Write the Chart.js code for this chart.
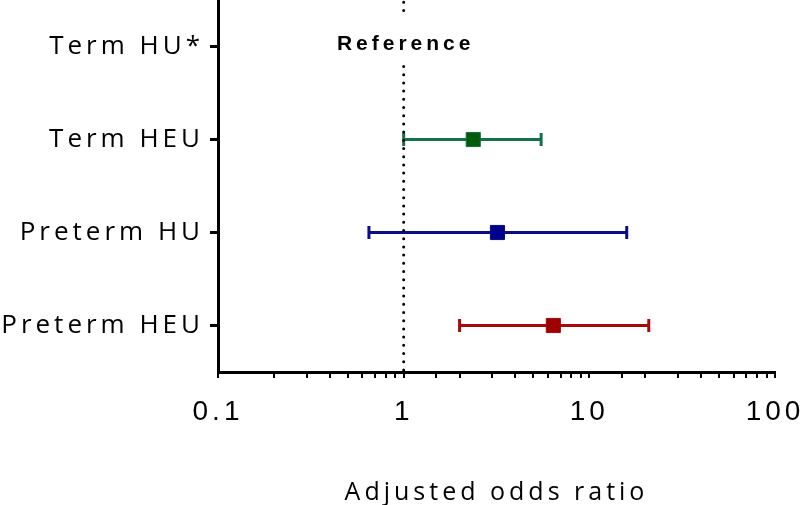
<!DOCTYPE html>
<html>
<head>
<meta charset="utf-8">
<script src="https://cdn.jsdelivr.net/npm/chart.js@4"></script>
<style>
  body { margin: 0; background: #fff; }
  #wrap { width: 800px; height: 505px; }
</style>
</head>
<body>
<div id="wrap"><canvas id="myChart"></canvas></div>
<script>
'use strict';

// groups, top to bottom
const groups = ['Term HU*', 'Term HEU', 'Preterm HU', 'Preterm HEU'];
// adjusted odds ratio and 95% CI (Term HU* is the reference)
const oddsRatio = [null, 2.37, 3.2, 6.4];
const lowerCI = [null, 1.0, 0.65, 2.0];
const upperCI = [null, 5.5, 15.9, 20.9];
const barColors = [null, '#12704a', '#0c0c86', '#a80a0a'];
const markColors = [null, '#005c0a', '#00008a', '#9e0000'];
const xTicks = [0.1, 1, 10, 100];
const refValue = 1;

Chart.defaults.color = '#000';

const datasets = [];
for (let i = 0; i < groups.length; i++) {
    if (oddsRatio[i] == null) continue;
    // the CI line with caps
    datasets.push({
        type: 'line',
        data: [{ x: lowerCI[i], y: groups[i] }, { x: upperCI[i], y: groups[i] }],
        borderColor: barColors[i],
        backgroundColor: barColors[i],
        borderWidth: 3,
        pointStyle: 'line',
        pointRotation: 90,
        pointRadius: 6.5,
        pointBorderWidth: 3,
        pointBorderColor: barColors[i],
        clip: false,
        order: 2
    });
    // the estimate
    datasets.push({
        type: 'scatter',
        data: [{ x: oddsRatio[i], y: groups[i] }],
        pointStyle: 'rect',
        pointRadius: 10,
        backgroundColor: markColors[i],
        borderColor: barColors[i],
        borderWidth: 1,
        clip: false,
        order: 1
    });
}

// letter spaced text like the original figure
const spacing = {
    id: 'spacing',
    beforeUpdate(chart) { chart.ctx.letterSpacing = '4px'; },
    beforeDraw(chart) { chart.ctx.letterSpacing = '4px'; }
};

// dotted line at OR = 1 with the "Reference" label
const refLine = {
    id: 'refLine',
    afterDatasetsDraw(chart) {
        const ctx = chart.ctx;
        const x = chart.scales.x.getPixelForValue(refValue);
        const yRef = chart.scales.y.getPixelForValue(0);
        const area = chart.chartArea;
        ctx.save();
        ctx.strokeStyle = '#000';
        ctx.lineWidth = 3;
        ctx.lineCap = 'round';
        ctx.setLineDash([0, 8.2]);
        ctx.beginPath();
        ctx.moveTo(x, yRef - 36);
        ctx.lineTo(x, area.top);
        ctx.moveTo(x, yRef + 20);
        ctx.lineTo(x, area.bottom);
        ctx.stroke();
        ctx.setLineDash([]);
        ctx.letterSpacing = '4px';
        ctx.font = 'bold 21px "Liberation Sans", Arial, sans-serif';
        ctx.fillStyle = '#000';
        ctx.textAlign = 'center';
        ctx.textBaseline = 'middle';
        ctx.fillText('Reference', x + 2, yRef - 2);
        ctx.restore();
    }
};

new Chart(document.getElementById('myChart'), {
    data: { labels: groups, datasets: datasets },
    options: {
        responsive: true,
        maintainAspectRatio: false,
        animation: false,
        layout: { autoPadding: false, padding: { top: 0, right: 25, bottom: 0, left: 0 } },
        plugins: {
            legend: { display: false },
            tooltip: { enabled: false }
        },
        scales: {
            x: {
                type: 'logarithmic',
                min: 0.1,
                max: 100,
                border: { display: true, color: '#000', width: 3 },
                grid: { drawOnChartArea: false, drawTicks: true, tickLength: 6, color: '#000', lineWidth: 2 },
                ticks: {
                    autoSkip: false,
                    maxRotation: 0,
                    padding: 17,
                    font: { family: '"Liberation Sans", Arial, sans-serif', size: 28 },
                    callback: function (value) {
                        return xTicks.includes(value) ? String(value) : '';
                    }
                },
                title: {
                    display: true,
                    text: 'Adjusted odds ratio',
                    font: { family: '"Open Sans", sans-serif', size: 25, lineHeight: 1 },
                    padding: { top: 0, bottom: 0 }
                },
                afterFit(scale) {
                    scale.height = 133;
                    scale.paddingLeft = 0;
                    scale.paddingRight = 0;
                }
            },
            y: {
                type: 'category',
                labels: groups,
                offset: true,
                border: { display: true, color: '#000', width: 3 },
                grid: { drawOnChartArea: false, drawTicks: true, tickLength: 8, color: '#000', lineWidth: 3, offset: false },
                ticks: {
                    padding: 6,
                    font: { family: '"Open Sans", sans-serif', size: 26 }
                },
                afterFit(scale) {
                    scale.width = 218;
                    scale.paddingTop = 0;
                    scale.paddingBottom = 0;
                }
            }
        }
    },
    plugins: [spacing, refLine]
});
</script>
</body>
</html>
